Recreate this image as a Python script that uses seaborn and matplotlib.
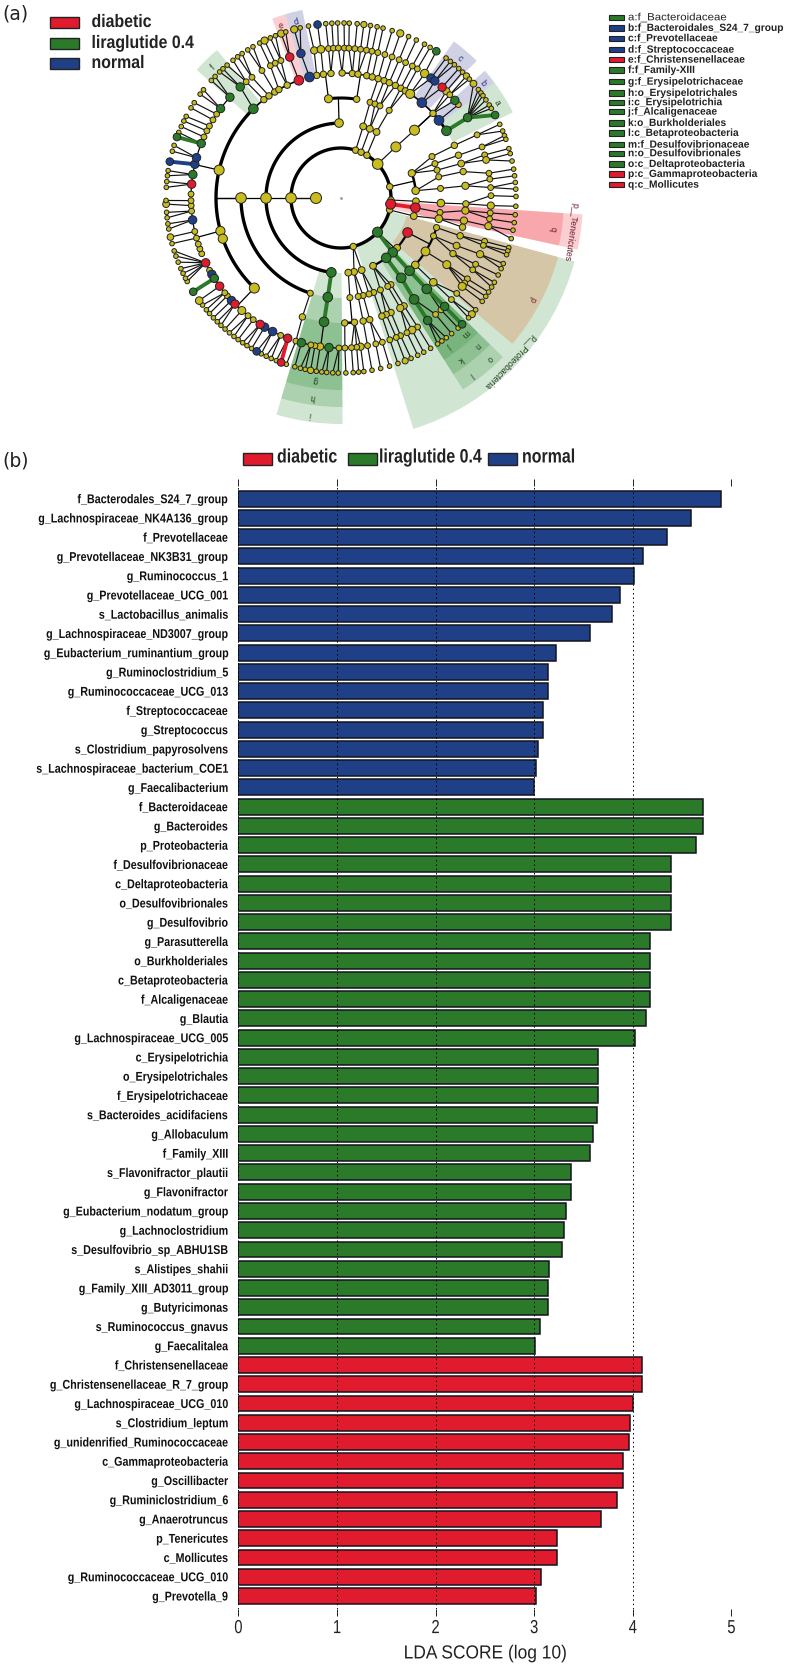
import matplotlib
matplotlib.use("Agg")
import matplotlib.pyplot as plt
from matplotlib.patches import Rectangle
from matplotlib.patheffects import AbstractPathEffect
from matplotlib.transforms import Affine2D
import seaborn as sns
import numpy as np
import pandas as pd

# lda bars (b)
normal_names = ["f_Bacterodales_S24_7_group", "g_Lachnospiraceae_NK4A136_group", "f_Prevotellaceae",
                "g_Prevotellaceae_NK3B31_group", "g_Ruminococcus_1", "g_Prevotellaceae_UCG_001",
                "s_Lactobacillus_animalis", "g_Lachnospiraceae_ND3007_group", "g_Eubacterium_ruminantium_group",
                "g_Ruminoclostridium_5", "g_Ruminococcaceae_UCG_013", "f_Streptococcaceae", "g_Streptococcus",
                "s_Clostridium_papyrosolvens", "s_Lachnospiraceae_bacterium_COE1", "g_Faecalibacterium"]
normal_scores = [4.89, 4.59, 4.35, 4.10, 4.01, 3.87, 3.79, 3.57, 3.22, 3.14, 3.14, 3.09, 3.09, 3.035, 3.02, 3.00]

lira_names = ["f_Bacteroidaceae", "g_Bacteroides", "p_Proteobacteria", "f_Desulfovibrionaceae",
              "c_Deltaproteobacteria", "o_Desulfovibrionales", "g_Desulfovibrio", "g_Parasutterella",
              "o_Burkholderiales", "c_Betaproteobacteria", "f_Alcaligenaceae", "g_Blautia",
              "g_Lachnospiraceae_UCG_005", "c_Erysipelotrichia", "o_Erysipelotrichales", "f_Erysipelotrichaceae",
              "s_Bacteroides_acidifaciens", "g_Allobaculum", "f_Family_XIII", "s_Flavonifractor_plautii",
              "g_Flavonifractor", "g_Eubacterium_nodatum_group", "g_Lachnoclostridium", "s_Desulfovibrio_sp_ABHU1SB",
              "s_Alistipes_shahii", "g_Family_XIII_AD3011_group", "g_Butyricimonas", "s_Ruminococcus_gnavus",
              "g_Faecalitalea"]
lira_scores = [4.715, 4.715, 4.645, 4.385, 4.385, 4.385, 4.385, 4.175, 4.175, 4.175, 4.175, 4.13, 4.02,
               3.65, 3.65, 3.65, 3.64, 3.595, 3.57, 3.375, 3.375, 3.32, 3.305, 3.28, 3.155, 3.135, 3.135, 3.06, 3.01]

diabetic_names = ["f_Christensenellaceae", "g_Christensenellaceae_R_7_group", "g_Lachnospiraceae_UCG_010",
                  "s_Clostridium_leptum", "g_unidenrified_Ruminococcaceae", "c_Gammaproteobacteria",
                  "g_Oscillibacter", "g_Ruminiclostridium_6", "g_Anaerotruncus", "p_Tenericutes", "c_Mollicutes",
                  "g_Ruminococcaceae_UCG_010", "g_Prevotella_9"]
diabetic_scores = [4.09, 4.09, 4.00, 3.97, 3.96, 3.90, 3.90, 3.84, 3.68, 3.23, 3.23, 3.07, 3.02]

# cladogram (a): angle in degrees of every node, one list per ring
ring_radius = [25, 50, 75, 100, 125, 150, 175]
ring_angles = [
    [180],
    [180, 73, 66.3, 58.8, 42.8, 13, -2.3, -7, -13.8, -43.1, -75.8],
    [91.5, 180, 262.6, 72.8, 67.4, 61.7, 43, 19.3, 5.6, -2.5, -7.4, -13.9, -27.4, -41.6, -46.4, -52.9, -64.7,
     -74, -80, -84.4],
    [97.2, 81, 180, 252.1, 262.4, 73.1, 70.1, 67.1, 61.2, 42.7, 24.5, 20.1, 16.2, 12.2, 5.5, -2.9, -8.3, -12,
     -17.2, -22.3, -32.3, -42, -46.7, -53, -60, -62.1, -66.8, -70.9, -73.8, -77.2, -80.1, -84.9],
    [167.1, 195.3, 199, 226.1, 252, 262.2, 134.5, 128.1, 125.2, 122, 119.8, 115.5, 109.7, 104.6, 101.2, 98.1,
     94.6, 89.5, 84.8, 82.2, 78.1, 75.5, 72.7, 69.8, 67.3, 64.2, 61.4, 59, 56.4, 49.7, 42.6, 38.4, 32.5, 24.9,
     20, 16, 12.2, 5.6, -2.7, -5.8, -10.4, -13.5, -17.6, -22.4, -26.4, -32.2, -42.4, -46.7, -54.2, -59.7, -61.7,
     -66.4, -68.8, -70.9, -76.7, -79.8, -83.8, -88.3],
    [178.5, 174.7, 171, 167, 164.4, 158.7, 156, 153.4, 151.3, 148.6, 146, 143.4, 137.8, 132.2, 129.2, 126.4,
     121.8, 118.1, 116, 113.6, 110, 105.5, 100.3, 97.7, 94.8, 92.9, 91, 88.7, 87, 84.7, 82.5, 80.2, 78.1, 75.8,
     73, 70.1, 67.2, 64.5, 61.6, 59.4, 56.1, 53.1, 51.3, 47.6, 45.4, 43.5, 40.6, 38.5, 32.4, 24.9, 19.9, 16.7,
     14.7, 9.5, 7.2, 4, 0.9, -2.9, -5.7, -8, -10.8, -16.8, -18.4, -22, -26.2, -28.6, -32.6, -34.5, -36.1, -39.5,
     -42.6, -46.3, -48.2, -50.9, -54.7, -59.3, -61.7, -63.9, -66.6, -68.4, -71, -74, -76.6, -79.8, -82.5, -84,
     -86, -88.5, 269.2, 265.4, 262, 260, 258.4, 254.7, 252.5, 249.2, 246.3, 242.9, 239.4, 237.4, 234.2, 231.7,
     228.6, 225, 223.1, 220.7, 219.2, 216, 212.4, 210.6, 208.8, 205.6, 201.8, 199.8, 197.9, 195.5, 192.9, 188.4,
     185, 182.9, 181],
    [176.5, 174.6, 172.7, 171, 168, 164.5, 162.5, 159.6, 158, 155.9, 153.9, 152.2, 149, 147, 143.6, 141.8, 137.8,
     136, 133.9, 132.4, 130.6, 128.1, 126.2, 124.4, 122.2, 120.2, 117.7, 115.9, 113.8, 112, 110, 108.4, 105.5,
     103.5, 100.7, 97.7, 95, 93, 91.1, 89, 87.3, 84.7, 82.5, 80.3, 78.1, 76.1, 73, 70.2, 67.3, 64.5, 61.5, 59.4,
     57, 53.1, 51.3, 49.6, 47.7, 46, 44.2, 42.8, 40.8, 38.3, 36.9, 35.8, 34.1, 32.1, 30.8, 28.3, 24.9, 22.5, 20.9,
     19.6, 16.4, 14.7, 12.2, 9.5, 7.3, 5.1, 2.9, 0.5, -2.7, -5.5, -8.1, -10.6, -13.4, -16.5, -17.6, -18.9, -22,
     -23.8, -26.1, -28.8, -30.6, -32.5, -34.2, -36.2, -39.7, -41.6, -43.2, -46.2, -48, -50.8, -53, -54.8, -56.5,
     -59.2, -61.8, -64, -66.4, -68.5, -71, -73.9, -76.9, -79.8, -82.5, -84.2, -86, -88.4, 269.1, 267.3, 265.3,
     263.7, 261.9, 260, 258.2, 256.6, 254.7, 251.8, 250, 248.3, 246.5, 244.7, 242.9, 241.2, 239.3, 237.5, 235.8,
     234, 232.3, 230.4, 228.5, 226.7, 225, 223.2, 221.3, 219.7, 217.7, 215.9, 212.4, 208.5, 207.3, 205.5, 203.8,
     201.5, 199.4, 197.6, 195.1, 192.9, 190.2, 188.5, 186.5, 184.7, 182, 180.8],
]

# biomarker nodes as (ring, angle)
green_nodes = [(1, -43.1), (2, 262.6), (2, -46.4), (2, -52.9), (3, 262.4), (3, -46.7), (3, -53), (4, 262.2), (4, 134.5),
               (4, 32.5), (4, -46.7), (4, -54.2), (5, 132.2), (5, 137.8), (5, 143.4), (5, 158.7), (5, 171), (5, 212.4),
               (5, 254.7), (5, 265.4), (5, 40.6), (5, 32.4), (5, -46.3), (5, -54.7), (6, 159.6), (6, 212.4), (6, 57),
               (6, 28.3), (6, -46.2)]
blue_nodes = [(4, 104.6), (4, 49.7), (4, 38.4), (5, 105.5), (5, 167), (5, 164.4), (5, 188.4), (5, 210.6), (5, 223.1),
              (5, 239.4), (5, 242.9), (5, 53.1), (5, 51.3), (6, 168), (6, 241.2), (6, 97.7)]
red_nodes = [(1, -7), (2, -7.4), (2, -27.4), (4, 109.7), (5, 110), (5, 174.7), (5, 205.6), (5, 216), (5, 225), (5, 237.4),
             (5, 249.2), (5, 47.6), (6, 250)]

# bigger yellow nodes
big_nodes = {(1, 180): 5.3, (1, 42.8): 5.3, (2, 180): 5.3, (2, 43): 5, (2, 91.5): 4.3, (2, 5.6): 3.8, (2, 19.3): 3.6,
             (3, 180): 5.3, (3, 42.7): 5, (3, -32.3): 4.4, (3, -42): 3.8, (3, 97.2): 4, (3, 81): 3.2, (3, -12): 3.8,
             (3, -2.9): 3.8, (4, 167.1): 5, (4, 195.3): 4.6, (4, 199): 4.6, (4, 226.1): 5, (4, 56.4): 4.5,
             (4, -32.2): 4, (4, -22.4): 3.4, (4, -10.4): 3.6, (4, -5.8): 3.6, (4, -42.4): 3.8, (4, -61.7): 3.6,
             (4, 16): 3.4, (4, 5.6): 3.6, (5, 97.7): 3.8, (5, 100.3): 3.6, (5, -61.7): 3.8, (5, -22): 3.6,
             (5, -36.1): 4, (5, -10.8): 3.6, (5, -2.9): 3.6, (5, 56.1): 4.2, (5, 228.6): 4, (5, 262): 3.6,
             (5, -82.5): 3.6, (5, 14.7): 3.4, (5, 45.4): 3.6, (6, 115.9): 3.6, (6, 110): 3.6, (6, 105.5): 3.6,
             (6, 70.2): 3.6, (6, 82.5): 3.1, (6, 215.9): 3.8, (6, 192.9): 3.3, (6, 182): 3.4, (6, 260): 3.2,
             (6, -41.6): 3.5, (6, -68.5): 3.1, (6, 40.8): 3.4, (6, 44.2): 3.2}

# arcs on a child ring: (parent ring, parent angle, first angle, last angle, line width)
arc_clades = [(1, 180, 91.5, 262.6, 2.4), (2, 180, 180, 252.1, 2.4), (3, 180, 134.5, 226.1, 2.4), (3, 180, 109.7, 134.5, 1.2),
              (2, 91.5, 81, 97.2, 2.2), (3, 97.2, 94.6, 104.6, 1.0), (3, 81, 75.5, 89.5, 1.0), (3, 42.7, 32.5, 42.7, 2.0),
              (3, 42.7, 42.7, 56.4, 1.2), (1, -43.1, -64.7, -27.4, 1.6), (1, 13, 5.6, 19.3, 1.8), (2, -27.4, -42, -17.2, 1.6),
              (4, 167.1, 137.8, 178.5, 0.9), (4, 195.3, 181, 201.8, 0.9), (4, 226.1, 205.6, 249.2, 0.9),
              (4, 262.2, 254.7, 269.2, 0.9), (3, -84.9, -88.3, -83.8, 1.8)]

# fans where many tips meet one node: (ring of node, node angle, first tip, last tip)
fan_clades = [(5, 32.4, 28.3, 40.8), (5, 205.6, 197.6, 208.5)]

# coloured branches: (ring a, angle a, ring b, angle b, colour name)
thick_branches = [(2, 262.6, 3, 262.4, "green"), (3, 262.4, 4, 262.2, "green"), (2, -46.4, 3, -46.7, "green"),
                  (3, -46.7, 4, -46.7, "green"), (4, -46.7, 5, -46.3, "green"), (5, -46.3, 6, -46.2, "green"),
                  (2, -52.9, 3, -53, "green"), (3, -53, 4, -54.2, "green"), (4, -54.2, 5, -54.7, "green"),
                  (4, 32.5, 5, 32.4, "green"), (5, 32.4, 6, 28.3, "green"), (5, 158.7, 6, 159.6, "green"),
                  (5, 212.4, 6, 212.4, "green"), (5, 167, 6, 168, "blue"), (5, 249.2, 6, 250, "red"),
                  (1, -7, 2, -7.4, "red"), (1, -43.1, 2, -46.4, "green")]

# shaded sectors, one row per letter
wedge_labels = ["p__Proteobacteria", "p__Tenericutes", "p", "q", "o", "n", "m", "l", "k", "j", "i", "h", "g",
                "f", "e", "d", "c", "b", "a"]
wedge_colours = ["green", "red", "orange", "red", "green", "green", "green", "green", "green", "green", "green", "green",
                 "green", "green", "red", "blue", "blue", "blue", "green"]
wedge_from = [-72.6, -12.3, -40.4, -12.3, -49.5, -49.5, -49.5, -57.5, -57.5, -57.5, 253.4, 253.4, 253.4,
              130, 106.9, 101.6, 45.3, 36.9, 26.5]
wedge_to = [-15.2, -3.9, -15.2, -3.9, -44.5, -44.5, -44.5, -49.5, -49.5, -49.5, 270.4, 270.4, 270.4,
            138.4, 111, 106.9, 54.2, 41.5, 36.9]
wedge_inner = [50, 50, 68, 75, 75, 100, 125, 75, 100, 125, 75, 100, 125, 125, 125, 125, 125, 125, 125]
wedge_outer = [242, 242, 225, 223, 227, 209, 192, 227, 209, 192, 226, 209, 192, 193, 192, 192, 193, 192, 192]

# legends
group_names = ["diabetic", "liraglutide 0.4", "normal"]
key_labels = ["a:f_Bacteroidaceae", "b:f_Bacteroidales_S24_7_group", "c:f_Prevotellaceae", "d:f_Streptococcaceae",
              "e:f_Christensenellaceae", "f:f_Family-XIII", "g:f_Erysipelotrichaceae", "h:o_Erysipelotrichales",
              "i:c_Erysipelotrichia", "j:f_Alcaligenaceae", "k:o_Burkholderiales", "l:c_Betaproteobacteria",
              "m:f_Desulfovibrionaceae", "n:o_Desulfovibrionales", "o:c_Deltaproteobacteria",
              "p:c_Gammaproteobacteria", "q:c_Mollicutes"]
key_colours = ["green", "blue", "blue", "blue", "red", "green", "green", "green", "green", "green", "green", "green",
               "green", "green", "green", "red", "red"]
key_rows = [18.3, 29, 39.3, 50.7, 60.7, 71, 82.7, 94, 103.3, 112.7, 124, 134, 145.7, 154.3, 165, 175, 185.7]

colours = {"red": "#e01b2d", "green": "#2a7a2a", "blue": "#1f3f87"}
sector_colours = {"red": "#ee2030", "green": "#2a8a32", "blue": "#30308f", "orange": "#e85a10"}
label_colours = {"red": "#6a1a2a", "green": "#1d3d1d", "blue": "#1f2f6a", "orange": "#6a1a2a"}
yellow = "#c8bc1e"
W, H = 787, 1665

sns.set_theme(style="white")
plt.rcParams["font.family"] = ["Liberation Sans", "DejaVu Sans"]
fig = plt.figure(figsize=(W / 100, H / 100), dpi=100, facecolor="white")


# no narrow font here, so squeeze the glyphs sideways around one x (pixels)
class Squeeze(AbstractPathEffect):
    def __init__(self, sx, x0):
        super().__init__()
        self.sx = sx
        self.x0 = x0

    def draw_path(self, renderer, gc, tpath, affine, rgbFace=None):
        squeeze_tf = Affine2D().translate(-self.x0, 0).scale(self.sx, 1).translate(self.x0, 0)
        renderer.draw_path(gc, tpath, affine + squeeze_tf, rgbFace)


def squeeze(txt, sx, x0):
    txt.set_path_effects([Squeeze(sx, x0)])


def px_box(left, top, right, bottom):
    return [left / W, 1 - bottom / H, (right - left) / W, (bottom - top) / H]


def draw_clade(ax):
    # shaded sectors first
    for lab, col, a, b, r0, r1 in zip(wedge_labels, wedge_colours, wedge_from, wedge_to, wedge_inner, wedge_outer):
        mid = np.deg2rad((a + b) / 2)
        ax.bar(mid, r1 - r0, width=np.deg2rad(b - a), bottom=r0, color=sector_colours[col], alpha=0.22, linewidth=0, zorder=1)
        long_name = lab.startswith("p__")
        rad = 234 if long_name else r1 - 9
        if lab == "p__Tenericutes":
            rad = 232
        ax.text(mid, rad, lab, rotation=(a + b) / 2 - 90, rotation_mode="anchor", ha="center", va="center",
                fontsize=6.2, color=label_colours[col], zorder=6)

    # root circle
    circle = np.linspace(0, 2 * np.pi, 200)
    ax.plot(circle, np.full(200, ring_radius[1]), color="black", lw=2.4, zorder=2)
    ax.plot(np.deg2rad([180, 180]), [ring_radius[0], ring_radius[1]], color="black", lw=0.9, zorder=2)

    # arcs with their stem from the parent
    for ring, pa, a, b, lw in arc_clades:
        r0, r1 = ring_radius[ring], ring_radius[ring + 1]
        th = np.deg2rad(np.linspace(a, b, 60))
        ax.plot(th, np.full(60, r1), color="black", lw=lw, zorder=2)
        ax.plot(np.deg2rad([pa, pa]), [r0, r1], color="black", lw=0.9, zorder=2)

    # every other node hangs on the closest node of the ring inside it
    for i in range(1, len(ring_angles)):
        inner = np.array(ring_angles[i - 1], dtype=float)
        for ang in ring_angles[i]:
            if any(rg + 1 == i and a <= ang <= b for rg, pa, a, b, lw in arc_clades):
                continue
            fan = [f for f in fan_clades if f[0] + 1 == i and f[2] <= ang <= f[3]]
            if fan:
                parent = fan[0][1]
            else:
                diff = np.abs(inner - ang)
                diff = np.minimum(diff, 360 - diff)
                if diff.min() > 8:
                    continue
                parent = inner[diff.argmin()]
                if parent - ang > 300:
                    parent -= 360
                if ang - parent > 300:
                    parent += 360
            ax.plot(np.deg2rad([parent, ang]), [ring_radius[i - 1], ring_radius[i]], color="#111111", lw=0.85, zorder=2)

    for r1, a1, r2, a2, col in thick_branches:
        ax.plot(np.deg2rad([a1, a2]), [ring_radius[r1], ring_radius[r2]], color=colours[col], lw=2.8,
                solid_capstyle="butt", zorder=3)

    # nodes
    base = [5.5, 3.2, 3.4, 3.0, 3.2, 2.9, 2.3]
    marked = {}
    for name, nodes in [("green", green_nodes), ("blue", blue_nodes), ("red", red_nodes)]:
        for n in nodes:
            marked[n] = name
    rows = []
    for i, angles in enumerate(ring_angles):
        for ang in angles:
            name = marked.get((i, ang), "yellow")
            rad = big_nodes.get((i, ang), base[i])
            if name != "yellow":
                rad = {1: 5, 2: 4.8, 3: 4.8, 4: 4.8, 5: 4.2, 6: 3.8}[i]
            rows.append((np.deg2rad(ang), ring_radius[i], name, (1.44 * rad) ** 2))
    nodes = pd.DataFrame(rows, columns=["theta", "r", "group", "area"])
    for name, part in nodes.groupby("group"):
        c = yellow if name == "yellow" else colours[name]
        sns.scatterplot(x=part["theta"].values, y=part["r"].values, s=part["area"].values, color=c, edgecolor="#222222",
                        linewidth=0.7, legend=False, ax=ax, zorder=5 if name == "yellow" else 5.5)
    ax.scatter([0], [0], s=1, color="#999999", zorder=5)
    ax.set_ylim(0, 245)
    ax.set_axis_off()


# panel a
clade_ax = fig.add_axes(px_box(341 - 245, 199 - 245, 341 + 245, 199 + 245), polar=True)
draw_clade(clade_ax)

# panel b
bars = pd.DataFrame({
    "feature": normal_names + lira_names + diabetic_names,
    "score": normal_scores + lira_scores + diabetic_scores,
    "group": ["normal"] * len(normal_names) + ["liraglutide 0.4"] * len(lira_names) + ["diabetic"] * len(diabetic_names),
})
bar_ax = fig.add_axes(px_box(238.4, 487, 731.4, 1610))
sns.barplot(data=bars, y="feature", x="score", hue="group", dodge=False, width=0.83, legend=False, saturation=1,
            palette={"normal": colours["blue"], "liraglutide 0.4": colours["green"], "diabetic": colours["red"]},
            edgecolor="#14141e", linewidth=1.1, ax=bar_ax)
bar_ax.set_xlim(0, 5)
bar_ax.set_ylim(57.675, -0.66)
bar_ax.set_xticks(range(6))
bar_ax.set_axisbelow(False)
bar_ax.grid(axis="x", color="black", linestyle=(0, (1.5, 3)), lw=0.7)
bar_ax.grid(axis="y", visible=False)
sns.despine(ax=bar_ax, left=True, right=True, top=True, bottom=True)
bar_ax.tick_params(axis="x", top=True, bottom=True, length=5, width=0.7, color="#222222", labelsize=13.6, pad=3,
                   labelcolor="#222222")
bar_ax.tick_params(axis="y", left=False, length=0, pad=7.5)
for lab in bar_ax.get_yticklabels():
    lab.set_fontsize(9.2)
    lab.set_fontweight("bold")
    lab.set_color("#111111")
    squeeze(lab, 0.84, 228)
for i, lab in enumerate(bar_ax.get_xticklabels()):
    squeeze(lab, 0.78, 238.4 + 98.6 * i)
bar_ax.set_ylabel("")
bar_ax.set_xlabel("LDA SCORE (log 10)", fontsize=13.6, color="#222222", labelpad=6)
squeeze(bar_ax.xaxis.label, 0.92, 485)

# overlay in reference pixels for panel tags and legends
over = fig.add_axes([0, 0, 1, 1], facecolor="none")
over.set_xlim(0, W)
over.set_ylim(H, 0)
over.set_axis_off()
tag_font = ["DejaVu Sans"]
over.text(2, 14, "(a)", fontsize=13.5, family=tag_font, va="center", color="#222222")
over.text(2, 461, "(b)", fontsize=13.5, family=tag_font, va="center", color="#222222")

for i, (name, col) in enumerate(zip(group_names, ["red", "green", "blue"])):
    y = [23.5, 44.5, 64.5][i]
    over.add_patch(Rectangle((50, y - 5.5), 29, 11, facecolor=colours[col], edgecolor="#222222", lw=1))
    squeeze(over.text(91.5, y, name, fontsize=13, fontweight="bold", va="center", color="#222222"), 0.88, 91.5)

for name, col, x0, x1 in zip(group_names, ["red", "green", "blue"], [243, 348, 488], [277, 379, 522]):
    over.add_patch(Rectangle((x0, 454), 29, 12, facecolor=colours[col], edgecolor="#222222", lw=1))
    squeeze(over.text(x1, 459, name, fontsize=14, fontweight="bold", va="center", color="#222222"), 0.82, x1)

for lab, col, y in zip(key_labels, key_colours, key_rows):
    over.add_patch(Rectangle((609, y - 2.7), 15, 5.4, facecolor=colours[col], edgecolor="#222222", lw=0.8))
    first = lab.startswith("a:")
    squeeze(over.text(628, y, lab, fontsize=7.5, fontweight="normal" if first else "bold", va="center",
                      color="#222222"), 1.1 if first else 0.98, 628)

fig.savefig("out.png", dpi=100)
